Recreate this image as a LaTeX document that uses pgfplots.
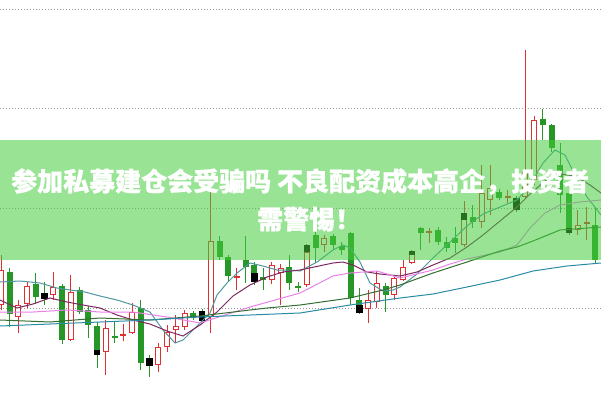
\documentclass[border=0pt]{standalone}
\usepackage{pgfplots}
\usepackage{pgfplotstable}
\pgfplotsset{compat=1.18}
\usepackage{fontspec}
\newfontfamily\cjk{Noto Sans CJK SC}[BoldFeatures={FakeBold=0.8}]
\definecolor{cred}{RGB}{222,48,48}
\definecolor{cgreen}{RGB}{38,150,38}
\definecolor{maA}{RGB}{80,150,160}
\definecolor{maB}{RGB}{125,40,95}
\definecolor{maC}{RGB}{232,130,232}
\definecolor{maD}{RGB}{50,110,50}
\definecolor{maE}{RGB}{40,140,165}
\definecolor{banner}{RGB}{68,206,60}
\definecolor{gridc}{RGB}{150,150,150}

% pixel coordinates: i = candle index, o/c/h/l = open/close/high/low (y in px from top)
\pgfplotstableread{
i o c h l
0 305 270 255 310
2 317 305 300 333
3 304 286 282 308
6 295 287 272 300
8 340 292 275 341
12 352 328 320 375
14 336 334 324 341
15 333 312 303 334
18 365 347 343 372
19 347 332 325 352
20 330 326 315 343
21 327 313 310 330
24 317 241 187 333
27 278 276 268 290
31 280 265 262 284
32 273 268 264 305
35 285 252 244 287
37 245 238 235 252
42 309 300 290 323
43 302 283 271 308
45 295 278 277 300
46 280 267 260 281
47 263 251 250 264
49 233 231 228 243
53 245 213 201 247
55 222 193 165 228
56 200 188 165 215
58 198 196 190 203
60 197 172 50 199
61 180 120 116 185
66 230 225 210 235
67 224 222 207 240
}\redt

\pgfplotstableread{
i o c h l
1 272 314 268 327
4 284 297 273 304
5 293 299 282 305
7 286 340 284 344
9 290 312 287 314
10 310 325 306 338
11 326 350 322 368
13 336 338 322 343
16 308 363 300 370
17 359 366 355 377
22 313 318 311 320
23 312 320 309 322
25 241 257 236 260
26 257 276 255 281
28 260 267 236 283
29 265 280 262 285
30 277 280 268 290
33 267 283 255 290
34 286 288 282 292
36 235 248 232 263
38 236 245 234 250
39 246 250 242 255
40 233 298 232 305
41 300 312 288 314
44 286 295 283 312
48 228 233 227 250
50 230 242 227 245
51 242 248 237 252
52 238 243 227 253
54 217 222 205 228
57 192 198 189 200
59 198 210 196 212
62 119 125 109 140
63 125 148 124 152
64 165 195 143 213
65 193 233 187 235
68 225 260 207 263
}\greent

\pgfplotstableread{
i t b
5 293 299
11 350 355
17 358 366
23 311 321
29 273 282
35 245 252
41 305 313
47 251 255
53 213 220
59 198 210
65 228 233
}\blackt

\begin{document}
\begin{tikzpicture}
\begin{axis}[
  width=601bp, height=400bp, scale only axis,
  xmin=0, xmax=601, ymin=0, ymax=400, y dir=reverse,
  axis line style={draw=none}, ticks=none, clip=true,
  candle/.style={draw=none, mark=none, forget plot, error bars/.cd, y dir=plus, y explicit, error mark=none},
]
% grid lines
\addplot[gridc, line width=1bp, dash pattern=on 1bp off 2bp] coordinates {(0,9) (601,9)};
\addplot[gridc, line width=1bp, dash pattern=on 1bp off 2bp] coordinates {(0,108) (601,108)};
\addplot[gridc, line width=1bp, dash pattern=on 1bp off 2bp] coordinates {(0,208) (601,208)};
\addplot[gridc, line width=1bp, dash pattern=on 1bp off 2bp] coordinates {(0,308) (601,308)};

% wicks
\addplot[candle, error bar style={draw=cred, line width=1bp}]
  table[x expr={1+8.74*\thisrow{i}}, y expr={\thisrow{h}}, y error plus expr={\thisrow{l}-\thisrow{h}}] {\redt};
\addplot[candle, error bar style={draw=cgreen, line width=1bp}]
  table[x expr={1+8.74*\thisrow{i}}, y expr={\thisrow{h}}, y error plus expr={\thisrow{l}-\thisrow{h}}] {\greent};
% red hollow bodies
\addplot[candle, error bar style={draw=cred, line width=6bp}]
  table[x expr={1+8.74*\thisrow{i}}, y expr={\thisrow{c}}, y error plus expr={max(\thisrow{o}-\thisrow{c},1.5)}] {\redt};
\addplot[candle, error bar style={draw=white, line width=4bp}]
  table[x expr={1+8.74*\thisrow{i}}, y expr={\thisrow{c}+1}, y error plus expr={max(\thisrow{o}-\thisrow{c}-2,0)}] {\redt};
% green bodies
\addplot[candle, error bar style={draw=cgreen, line width=6bp}]
  table[x expr={1+8.74*\thisrow{i}}, y expr={\thisrow{o}}, y error plus expr={max(\thisrow{c}-\thisrow{o},1.5)}] {\greent};
% black markers
\addplot[candle, error bar style={draw=black, line width=6.5bp}]
  table[x expr={1+8.74*\thisrow{i}}, y expr={\thisrow{t}}, y error plus expr={\thisrow{b}-\thisrow{t}}] {\blackt};

% moving averages
\addplot[maA, line width=1bp] coordinates {(0,282) (20,281) (40,283) (57,288) (70,290) (85,292) (100,296) (117,300) (133,305) (150,312) (163,330) (175,343) (183,340) (200,323) (210,313) (217,295) (227,283) (237,273) (250,263) (263,266) (277,270) (290,270) (300,271) (317,262) (333,250) (343,245) (350,248) (360,262) (370,283) (383,291) (393,290) (400,287) (417,274) (433,258) (450,242) (467,226) (483,214) (500,207) (517,200) (530,185) (543,163) (555,150) (565,155) (575,175) (587,197) (601,215)};
\addplot[maB, line width=1bp] coordinates {(0,300) (17,308) (33,304) (50,298) (67,302) (83,305) (100,308) (117,315) (133,320) (150,324) (167,331) (183,336) (200,325) (217,312) (233,296) (250,285) (267,277) (283,272) (300,270) (333,263) (343,262) (353,265) (367,272) (380,274) (400,276) (417,272) (433,265) (450,258) (467,247) (483,235) (500,221) (517,207) (530,194) (545,181) (560,174) (575,176) (590,185) (601,193)};
\addplot[maC, line width=1bp] coordinates {(0,312) (33,312) (67,310) (100,312) (133,312) (167,317) (200,323) (225,315) (250,307) (275,300) (300,293) (333,276) (350,273) (377,271) (400,278) (433,270) (450,264) (467,259) (500,252) (517,245) (530,228) (545,213) (560,205) (580,202) (601,200)};
\addplot[maD, line width=1bp] coordinates {(0,320) (50,322) (100,318) (150,320) (200,316) (250,310) (267,308) (300,305) (350,298) (383,290) (400,285) (433,273) (467,262) (500,251) (517,247) (533,241) (560,230) (601,227)};
\addplot[maE, line width=1bp] coordinates {(0,326) (50,324) (100,322) (150,320) (200,317) (250,315) (300,313) (350,305) (400,298) (433,294) (467,287) (500,280) (533,271) (567,266) (601,263)};

% banner
\fill[banner, fill opacity=0.55] (axis cs:0,140) rectangle (axis cs:601,260);
\node[anchor=base west, inner sep=0pt, text=white, font=\cjk\bfseries\fontsize{26bp}{30bp}\selectfont] at (axis cs:11,191) {参加私募建仓会受骗吗 不良配资成本高企，投资者};
\node[anchor=base west, inner sep=0pt, text=white, font=\cjk\bfseries\fontsize{26bp}{30bp}\selectfont] at (axis cs:257,229) {需警惕！};
\end{axis}
\end{tikzpicture}
\end{document}
